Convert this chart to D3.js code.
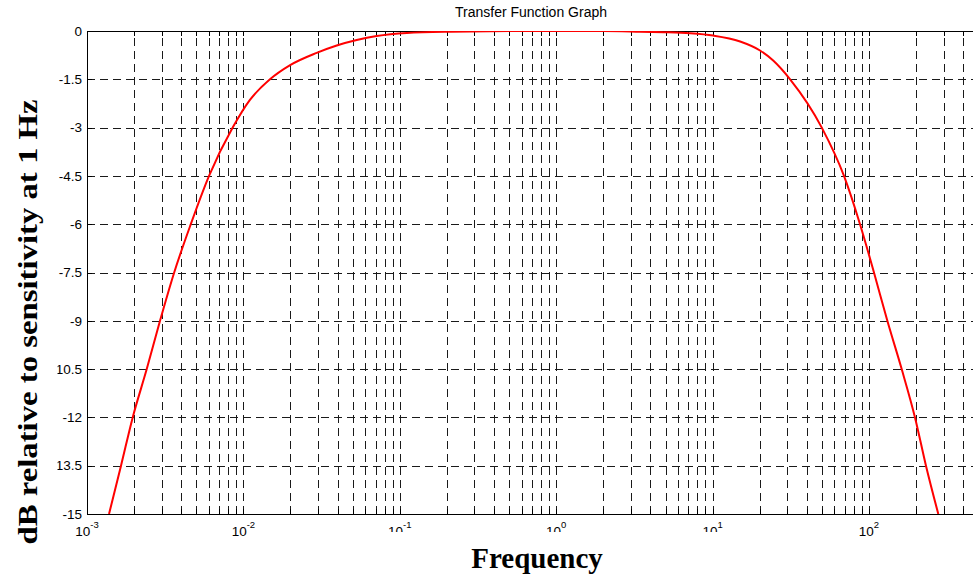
<!DOCTYPE html>
<html>
<head>
<meta charset="utf-8">
<script src="https://cdn.jsdelivr.net/npm/d3@7"></script>
<style>
  html, body { margin: 0; padding: 0; background: #fff; overflow: hidden; }
  svg { display: block; }
</style>
</head>
<body>
<svg id="chart" width="973" height="578"></svg>
<script>
// ---- data ----
const title = "Transfer Function Graph";
const xLabel = "Frequency";
const yLabel = "dB relative to sensitivity at 1 Hz";
const freqHz = [0.001383, 0.00165, 0.00196, 0.00241, 0.00293, 0.00361, 0.00461, 0.00603, 0.00854, 0.01101,
                0.01479, 0.0199, 0.0294, 0.0395, 0.053, 0.0711, 0.111, 0.21, 0.5, 1, 2, 3.43, 4.89, 7.17, 10.1, 15,
                20.1, 24.4, 31.3, 49.9, 69.2, 87.6, 107.6, 131, 161.8, 196.8, 231.3, 277.4];
const gainDb = [-15, -13.5, -12, -10.5, -9, -7.5, -6, -4.5, -3, -2.14,
                -1.5, -1.06, -0.68, -0.45, -0.28, -0.155, -0.06, -0.02, -0.003, 0, 0, -0.02, -0.037, -0.071, -0.143, -0.326,
                -0.605, -0.916, -1.5, -3, -4.5, -6, -7.5, -9, -10.5, -12, -13.5, -15];
const yTicks = [0, -1.5, -3, -4.5, -6, -7.5, -9, -10.5, -12, -13.5, -15];
const yTickLabels = ["0", "-1.5", "-3", "-4.5", "-6", "-7.5", "-9", "-10.5", "-12", "-13.5", "-15"];
const xDecadeExponents = [-3, -2, -1, 0, 1, 2];
const xDomain = [1e-3, 1e3];
const yDomain = [-15, 0];

// ---- layout ----
const pLeft = 87, pTop = 31, pBottom = 514;
const decadePx = 156.4;
const pRight = pLeft + decadePx * 6;

const svg = d3.select("#chart");
const x = d3.scaleLog().domain(xDomain).range([pLeft, pRight]);
const y = d3.scaleLinear().domain(yDomain).range([pBottom, pTop]);

const sans = "'Liberation Sans', Arial, Helvetica, sans-serif";
const serif = "'Liberation Serif', 'Times New Roman', serif";
const gridColor = "#1a1a1a";

// defs: clip for plot and for truncated tick labels
const defs = svg.append("defs");
defs.append("clipPath").attr("id", "plotClip")
  .append("rect").attr("x", pLeft).attr("y", pTop).attr("width", pRight - pLeft).attr("height", pBottom - pTop);
defs.append("clipPath").attr("id", "labelCut")
  .append("rect").attr("x", 0).attr("y", 0).attr("width", 973).attr("height", 532);

// grid values
const minorVals = [];
for (let e = -3; e < 3; e++) for (let k = 1; k <= 9; k++) minorVals.push(k * Math.pow(10, e));
const innerVals = minorVals.filter(v => v > xDomain[0]);

const grid = svg.append("g").attr("shape-rendering", "crispEdges");
grid.selectAll("line.v").data(innerVals).enter().append("line")
  .attr("class", "v")
  .attr("x1", d => Math.round(x(d)) + 0.5).attr("x2", d => Math.round(x(d)) + 0.5)
  .attr("y1", pBottom).attr("y2", pTop)
  .attr("stroke", gridColor).attr("stroke-width", 1).attr("stroke-dasharray", "8,5");
grid.selectAll("line.h").data(yTicks.filter(v => v !== 0 && v !== -15)).enter().append("line")
  .attr("class", "h")
  .attr("x1", pLeft).attr("x2", pRight)
  .attr("y1", d => Math.round(y(d)) + 0.5).attr("y2", d => Math.round(y(d)) + 0.5)
  .attr("stroke", gridColor).attr("stroke-width", 1).attr("stroke-dasharray", "8,5");

// inward ticks
const ticks = svg.append("g").attr("shape-rendering", "crispEdges").attr("stroke", "#000");
innerVals.forEach(v => {
  const px = Math.round(x(v)) + 0.5;
  ticks.append("line").attr("x1", px).attr("x2", px).attr("y1", pBottom).attr("y2", pBottom - 5);
  ticks.append("line").attr("x1", px).attr("x2", px).attr("y1", pTop).attr("y2", pTop + 5);
});
yTicks.forEach(v => {
  const py = Math.round(y(v)) + 0.5;
  ticks.append("line").attr("x1", pLeft).attr("x2", pLeft + 5).attr("y1", py).attr("y2", py);
});

// axes box (left, top, bottom)
const box = svg.append("g").attr("shape-rendering", "crispEdges").attr("stroke", "#000").attr("stroke-width", 1.3);
box.append("line").attr("x1", pLeft + 0.5).attr("x2", pLeft + 0.5).attr("y1", pTop).attr("y2", pBottom + 1);
box.append("line").attr("x1", pLeft).attr("x2", pRight).attr("y1", pTop + 0.5).attr("y2", pTop + 0.5);
box.append("line").attr("x1", pLeft).attr("x2", pRight).attr("y1", pBottom + 0.5).attr("y2", pBottom + 0.5);

// curve
const pts = freqHz.map((f, i) => [f, gainDb[i]]);
const line = d3.line().x(d => x(d[0])).y(d => y(d[1])).curve(d3.curveMonotoneX);
svg.append("path").datum(pts)
  .attr("clip-path", "url(#plotClip)")
  .attr("d", line)
  .attr("fill", "none").attr("stroke", "#ff0000").attr("stroke-width", 2)
  .attr("stroke-linejoin", "round");

// y tick labels
svg.append("g").selectAll("text").data(yTicks).enter().append("text")
  .attr("x", pLeft - 5).attr("y", d => y(d)).attr("dy", "0.35em")
  .attr("text-anchor", "end").attr("font-family", sans).attr("font-size", 13.5).attr("fill", "#000")
  .text((d, i) => yTickLabels[i]);

// x tick labels 10^n
const xl = svg.append("g");
xDecadeExponents.forEach(e => {
  const t = xl.append("text")
    .attr("x", x(Math.pow(10, e))).attr("y", 536)
    .attr("text-anchor", "middle").attr("font-family", sans).attr("font-size", 13.5).attr("fill", "#000");
  if (e >= -1 && e <= 1) t.attr("clip-path", "url(#labelCut)");
  t.append("tspan").text("10");
  t.append("tspan").attr("font-size", 9.5).attr("dy", -8).text(String(e));
});

// title
svg.append("text").attr("x", 531).attr("y", 17).attr("text-anchor", "middle")
  .attr("font-family", sans).attr("font-size", 14).attr("fill", "#000").text(title);

// x label
svg.append("text").attr("x", 537).attr("y", 568).attr("text-anchor", "middle")
  .attr("font-family", serif).attr("font-weight", "bold").attr("font-size", 29).attr("fill", "#000")
  .text(xLabel);

// y label with white background
const yl = svg.append("g").attr("transform", "translate(37,322) rotate(-90)");
yl.append("rect").attr("x", -240).attr("y", -37).attr("width", 480).attr("height", 57.5).attr("fill", "#fff");
yl.append("text").attr("x", 0).attr("y", 0).attr("text-anchor", "middle")
  .attr("font-family", serif).attr("font-weight", "bold").attr("font-size", 28).attr("fill", "#000")
  .attr("textLength", 445).attr("lengthAdjust", "spacingAndGlyphs")
  .text(yLabel);
</script>
</body>
</html>
